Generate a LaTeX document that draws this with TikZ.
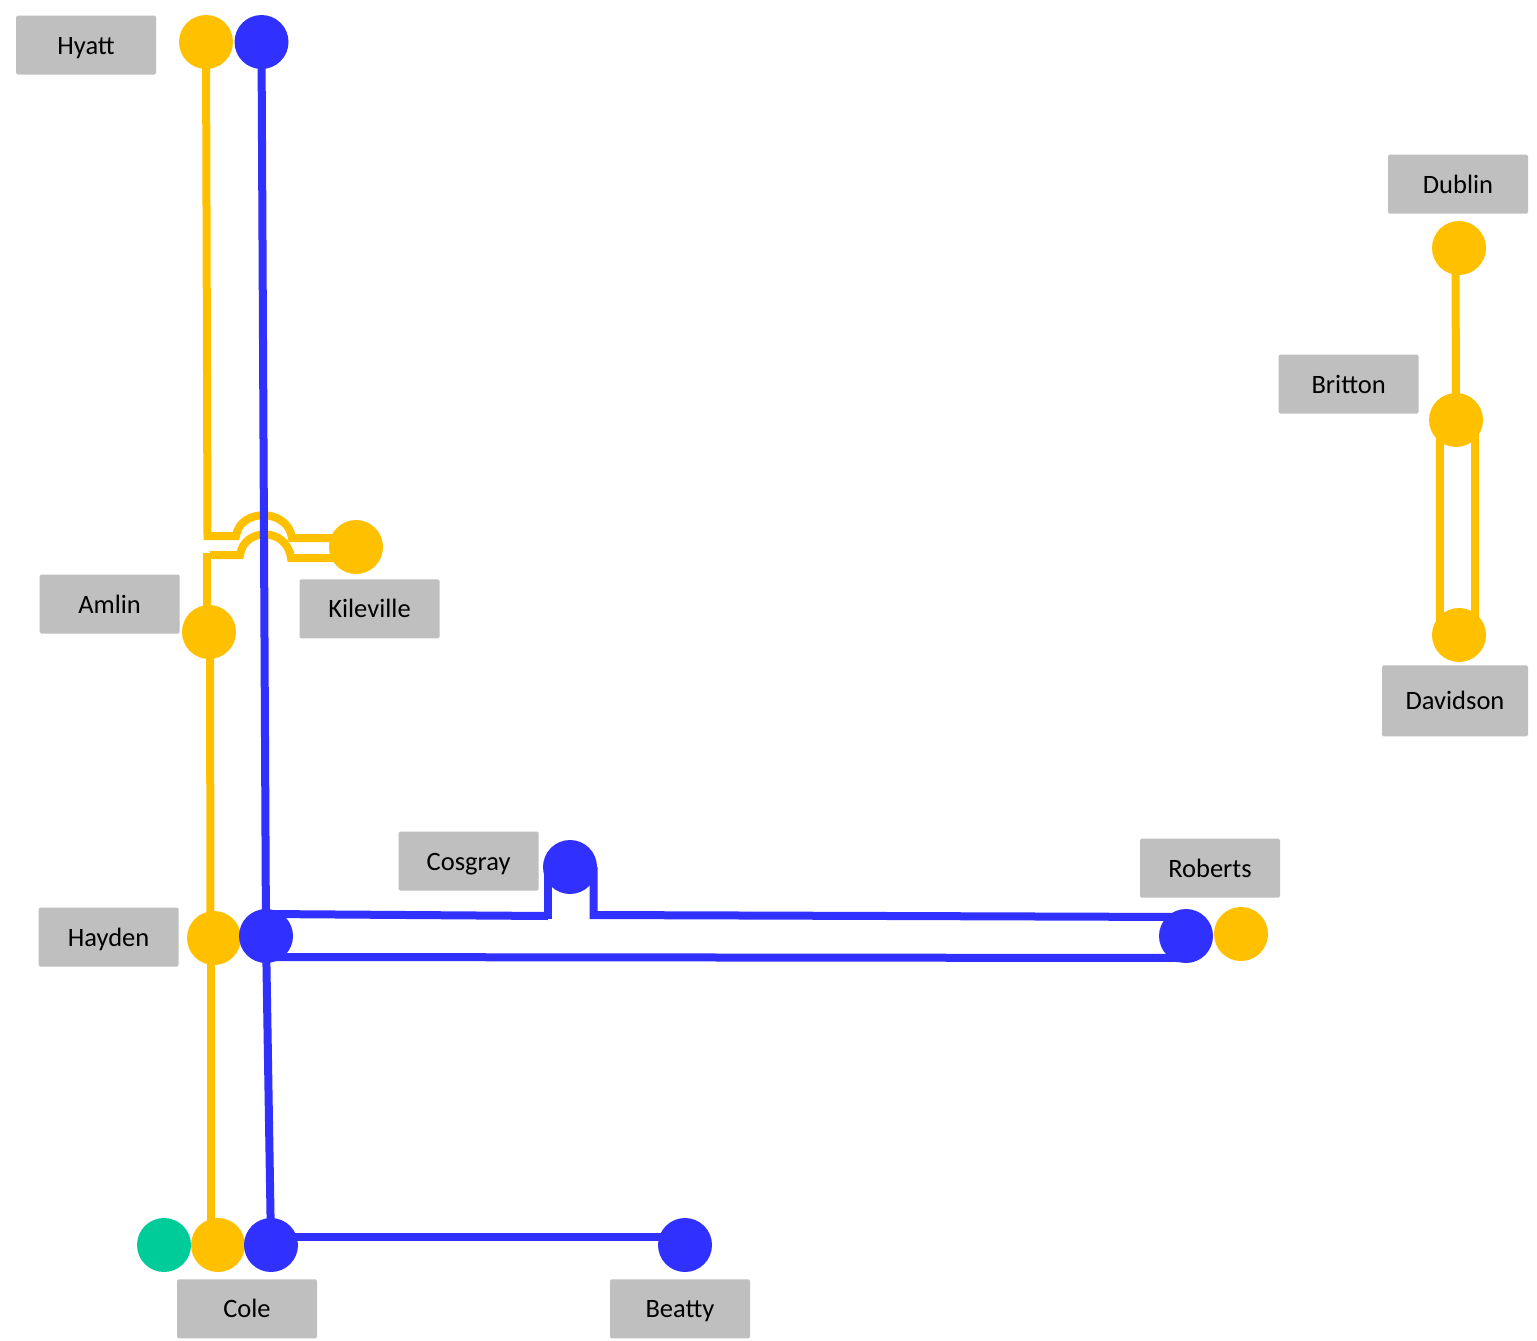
\documentclass[tikz,border=0pt]{standalone}
\usepackage{fontspec}
\setmainfont{Carlito}
\usetikzlibrary{positioning}
\definecolor{lineyellow}{HTML}{FFC000}
\definecolor{lineblue}{HTML}{3030FF}
\definecolor{linegreen}{HTML}{00CC99}
\definecolor{labelgrey}{HTML}{BFBFBF}

\begin{document}
\begin{tikzpicture}[
	x=1pt, y=-1pt,
	stop/.style= {circle,
    			  inner sep=0pt,
                  minimum size=54pt
    },
	yellowstop/.style= {stop, fill=lineyellow},
	bluestop/.style= {stop, fill=lineblue},
	greenstop/.style= {stop, fill=linegreen},
	name label/.style= {fill=labelgrey,
    			  rounded corners=1.5pt,
                  font=\fontsize{26.5}{30}\selectfont,
                  text height=18pt,
                  text depth=0pt,
                  inner sep=0pt,
                  minimum width=140pt,
                  minimum height=59pt
    },
	yellowline/.style= {draw=lineyellow, line width=8pt},
	blueline/.style= {draw=lineblue, line width=8pt}
]
	\useasboundingbox (0,0) rectangle (1537,1341);

	\node (hyattY) [yellowstop] at (206,42) {};
	\node (hyattB) [bluestop] at (261.5,42) {};
	\node (kileville) [yellowstop] at (356,547) {};
	\node (amlin) [yellowstop] at (209,632) {};
	\node (cosgray) [bluestop] at (570,867) {};
	\node (haydenY) [yellowstop] at (214,938) {};
	\node (haydenB) [bluestop] at (266,936) {};
	\node (robertsB) [bluestop] at (1186,936) {};
	\node (robertsY) [yellowstop] at (1241,934) {};
	\node (coleG) [greenstop] at (164,1245) {};
	\node (coleY) [yellowstop] at (218,1245) {};
	\node (coleB) [bluestop] at (271,1245) {};
	\node (beatty) [bluestop] at (685,1245) {};
	\node (dublin) [yellowstop] at (1459,248) {};
	\node (britton) [yellowstop] at (1456,420) {};
	\node (davidson) [yellowstop] at (1459,635) {};

	\node (hyattlabel) [name label, left = 22.5pt of hyattY, yshift=-3pt] {Hyatt};
	\node (amlinlabel) [name label, left = 2pt of amlin, yshift=28pt] {Amlin};
	\node (kilevillelabel) [name label, below = 5pt of kileville, xshift=13.5pt] {Kileville};
	\node (cosgraylabel) [name label, left = 4pt of cosgray, yshift=6pt] {Cosgray};
	\node (haydenlabel) [name label, left = 8pt of haydenY, yshift=1pt] {Hayden};
	\node (robertslabel) [name label, above = 9pt of robertsY, xshift=-31pt] {Roberts};
	\node (colelabel) [name label, below = 7pt of coleY, xshift=29pt] {Cole};
	\node (beattylabel) [name label, below = 7pt of beatty, xshift=-5pt] {Beatty};
	\node (dublinlabel) [name label, above = 7pt of dublin, xshift=-1pt] {Dublin};
	\node (brittonlabel) [name label, left = 10pt of britton, yshift=36pt] {Britton};
	\node (davidsonlabel) [name label, below = 3pt of davidson, xshift=-4pt, minimum width=146pt, minimum height=71pt] {Davidson};

	\coordinate (topbendA) at (207.5,536);
	\coordinate (topbendB) at (236,536);
	\coordinate (topbendC) at (292,538);
	\coordinate (lowbendA) at (207,555);
	\coordinate (lowbendB) at (240,555);
	\coordinate (lowbendC) at (291,558);
	\coordinate (bumpA) at (548,916);
	\coordinate (bumpB) at (593.5,915);

	% yellow line, with the hop over the blue one
	\draw[yellowline] (hyattY.center) -- (topbendA) -- (topbendB)
		.. controls (240,508) and (288,508) .. (topbendC) -- ([yshift=9pt]kileville.center);
	\draw[yellowline] ([xshift=-2pt]amlin.center) -- ([yshift=2pt]lowbendA);
	\draw[yellowline] ([xshift=3pt]lowbendA) -- (lowbendB)
		.. controls (244,527) and (287,527) .. (lowbendC) -- ([yshift=-11pt]kileville.center);
	\draw[yellowline] ([xshift=1pt]amlin.center) -- ([xshift=-3.5pt]haydenY.center);
	\draw[yellowline] ([xshift=-3.5pt]haydenY.center) -- ([xshift=-7.5pt]coleY.center);
	\draw[yellowline] ([xshift=-3.5pt]dublin.center) -- (britton.center);
	\draw[yellowline] ([xshift=-16pt]britton.center) -- ([xshift=-19pt]davidson.center);
	\draw[yellowline] ([xshift=19pt]britton.center) -- ([xshift=16pt]davidson.center);

	% blue line
	\draw[blueline] (hyattB.center) -- (haydenB.center);
	\draw[blueline] (haydenB.center) -- (coleB.center);
	\draw[blueline] ([yshift=22pt]haydenB.center) -- (bumpA);
	\draw[blueline] ([yshift=-3pt]bumpA) -- ([xshift=-22pt]cosgray.center);
	\draw[blueline] ([xshift=23.5pt]cosgray.center) -- (bumpB) -- ([yshift=19pt]robertsB.center);
	\draw[blueline] ([yshift=-21pt]haydenB.center) -- ([yshift=-22pt]robertsB.center);
	\draw[blueline] ([yshift=8pt]coleB.center) -- ([yshift=8pt]beatty.center);
\end{tikzpicture}
\end{document}
